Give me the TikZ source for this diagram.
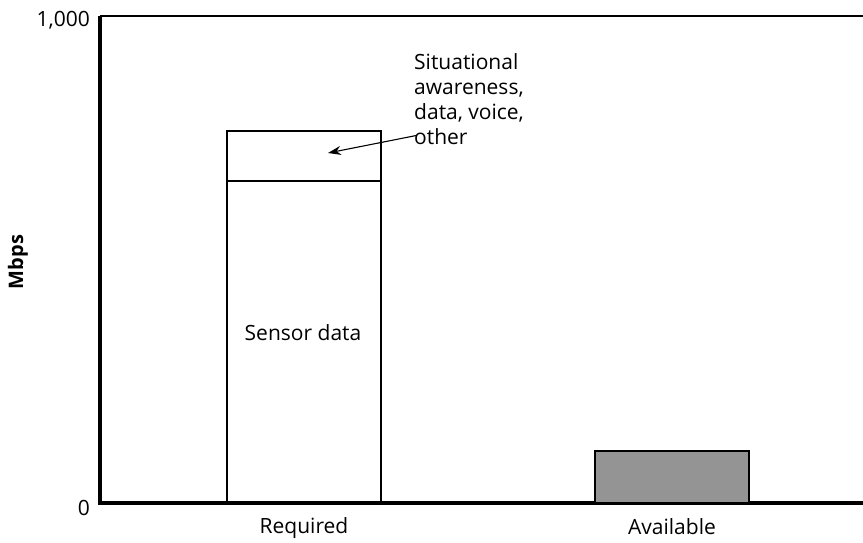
\documentclass[tikz,border=0pt]{standalone}
\usepackage{fontspec}
\setmainfont{Open Sans}
\usepackage{xcolor}
\usetikzlibrary{arrows.meta,positioning,calc}

\begin{document}
\begin{tikzpicture}[x=1pt,y=1pt,axis/.style={line width=3.2pt},bar/.style={draw,line width=1.1pt},lbl/.style={font=\fontsize{21}{25}\selectfont,inner sep=0pt},avail/.style={bar,fill=black!42}]
\useasboundingbox (0,0) rectangle (863,542);
% frame and axes
\coordinate (o) at (100,39);
\coordinate (ytop) at (100,526);
\draw[line width=1.1pt] (ytop) -- (863,526);
\draw[axis] (ytop) -- (o) -- (863,39);
\node[lbl,anchor=east] (ymax) at (90,522) {1,000};
\node[lbl,anchor=east] (ymin) at (90,34) {0};
\node[lbl,font=\fontsize{20}{25}\selectfont\bfseries,rotate=90] (unit) at (18,280) {Mbps};
% bars
\draw[bar] (227,39) rectangle (381,411);
\draw[bar] (227,361) -- (381,361);
\draw[avail] (595,39) rectangle (749,91);
\node[lbl] (sensor) at (303,209) {Sensor data};
\node[lbl] (req) at (304,14) {Required};
\node[lbl] (avl) at (672,15) {Available};
% note on the upper part
\node[lbl,align=left,anchor=north west] (note) at (414,489) {Situational\\awareness,\\data, voice,\\other};
\coordinate (tip) at (328,389);
\draw[line width=1.1pt,-{Stealth[length=13pt,width=9pt]}] ($(note.south west)+(2,9)$) -- (tip);
\end{tikzpicture}
\end{document}
